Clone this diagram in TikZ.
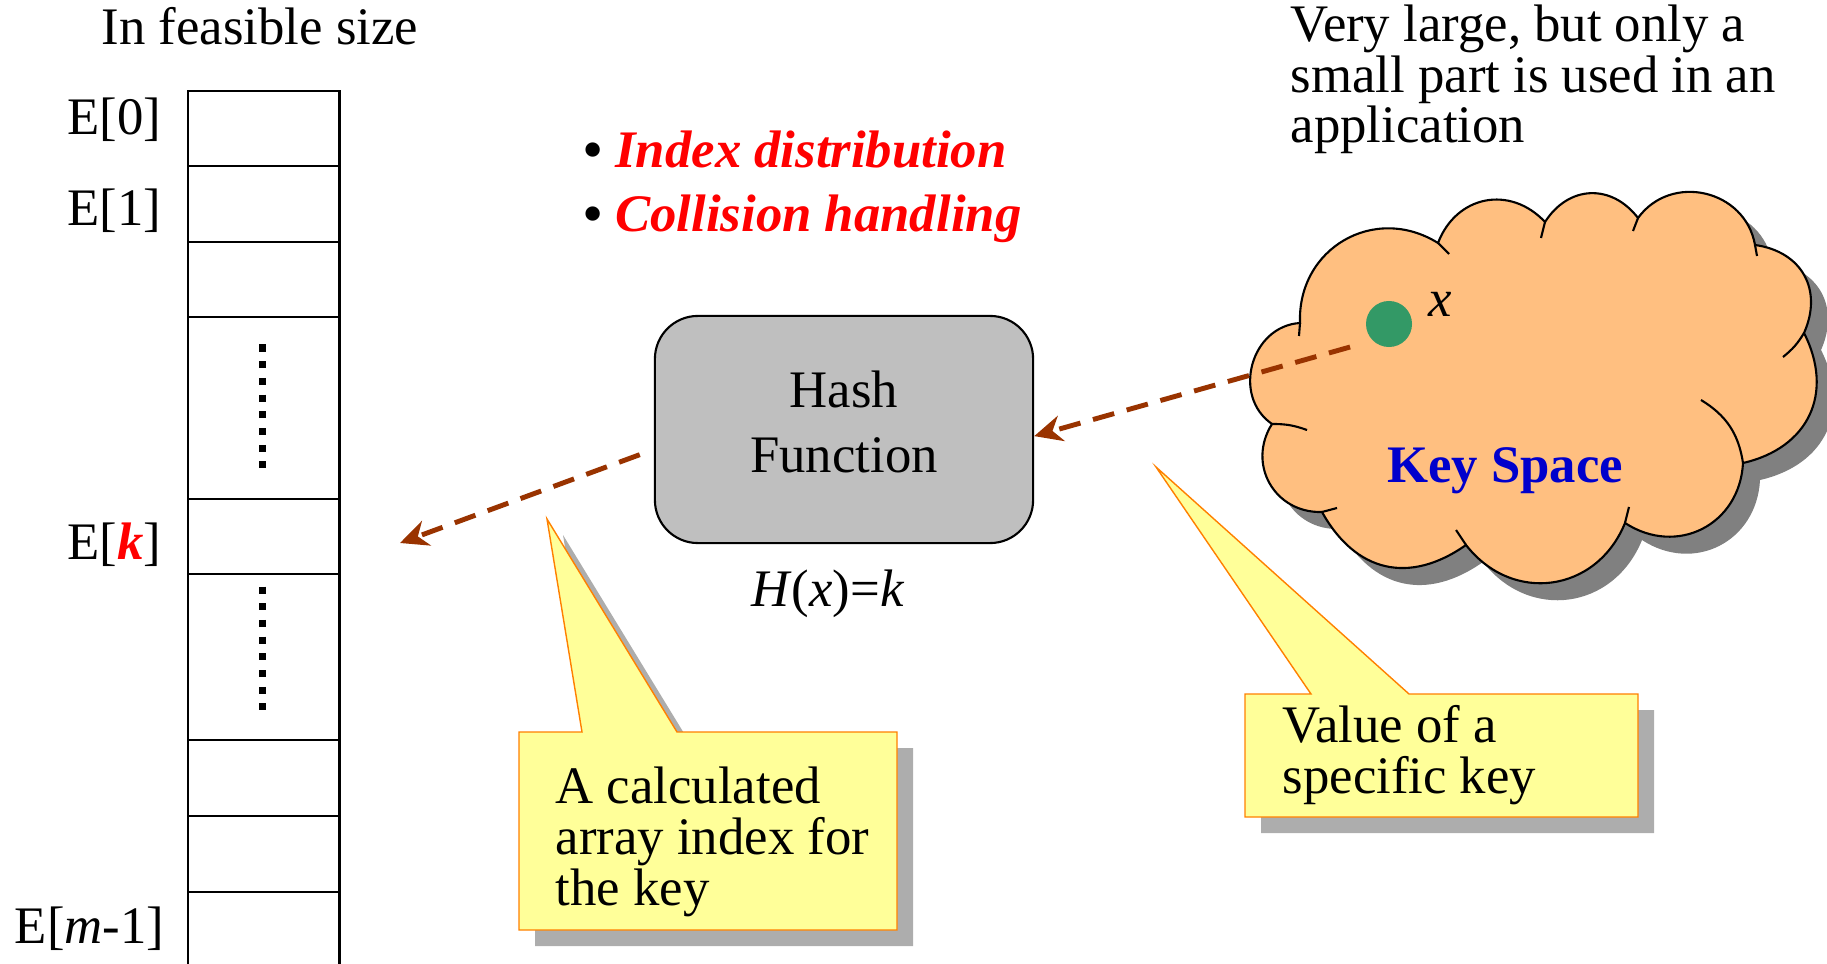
\documentclass[tikz,border=0pt]{standalone}
\usepackage{fontspec}
\setmainfont{Liberation Serif}
\usepackage{xcolor}
\usetikzlibrary{shapes.geometric, arrows.meta, positioning, shadows}

\definecolor{arrowbrown}{RGB}{153,51,0}
\definecolor{cloudfill}{RGB}{255,191,128}
\definecolor{keyblue}{RGB}{0,0,204}
\definecolor{dotgreen}{RGB}{51,153,102}
\definecolor{notefill}{RGB}{255,255,153}
\definecolor{noteedge}{RGB}{255,128,0}

\begin{document}
\begin{tikzpicture}[
  x=0.01cm, y=-0.01cm,
  font=\fontsize{15}{14.4}\selectfont,
  cell/.style={rectangle, draw, line width=0.7pt, minimum width=1.51cm,
               inner sep=0pt, anchor=north west},
  dotline/.style={line width=0.07cm, dash pattern=on 0.07cm off 0.097cm},
  slotname/.style={inner sep=0pt, anchor=base east},
  plain/.style={inner sep=0pt, align=left},
  hashbox/.style={rectangle, rounded corners=0.43cm, draw, line width=0.6pt,
                  fill=black!25, minimum width=3.78cm, minimum height=2.27cm,
                  align=center, text depth=0.16cm, font=\fontsize{15}{18.5}\selectfont},
  bulletitem/.style={inner sep=0pt, anchor=base west,
                     font=\fontsize{15}{17}\selectfont\bfseries\itshape},
  keycloud/.style={draw, line width=0.6pt, fill=cloudfill, looseness=1.2,
                   drop shadow={shadow xshift=0.17cm, shadow yshift=-0.17cm,
                                fill=black!50, opacity=1}},
  keydot/.style={circle, fill=dotgreen, minimum size=0.46cm, inner sep=0pt},
  callnote/.style={draw=noteedge, line width=0.4pt, fill=notefill,
                   drop shadow={shadow xshift=0.16cm, shadow yshift=-0.16cm,
                                fill=black!32, opacity=1}},
  keyarrow/.style={draw=arrowbrown, line width=1.4pt,
                   dash pattern=on 0.22cm off 0.13cm,
                   -{Stealth[length=0.28cm, width=0.26cm, inset=0.09cm]}},
]
  \useasboundingbox (0,0) rectangle (1827,964);

  % hash table slots, top to bottom
  \foreach \ya/\yb/\cid in {90/165/e0, 165/241/e1, 241/316/e2, 316/498/gapa,
                            498/573/ek, 573/739/gapb, 739/815/e7, 815/891/e8, 891/990/elast}
    \node[cell, minimum height={(\yb-\ya)*0.01cm}] (\cid) at (187,\ya) {};
  \draw[dotline] (262,344.5) -- (262,468.5);
  \draw[dotline] (262,586.5) -- (262,711.5);

  \node[plain, anchor=base] (tabletitle) at (260,45) {In feasible size};
  \node[slotname] (n0) at (162,135) {E[0]};
  \node[slotname] (n1) at (162,226) {E[1]};
  \node[slotname] (nk) at (162,559) {E[\textcolor{red}{\textbf{\textit{k}}}]};
  \node[slotname] (nlast) at (165,943) {E[\textit{m}-1]};

  % the two issues of hashing
  \node[bulletitem] (distrib) at (583,168) {\textbullet\ \textcolor{red}{Index distribution}};
  \node[bulletitem] (collide) at (583,232) {\textbullet\ \textcolor{red}{Collision handling}};

  % hash function
  \node[hashbox] (hash) at (844,429.5) {Hash\\Function};
  \node[plain, below=0.25cm of hash, xshift=-0.16cm] (formula)
       {\textit{H}(\textit{x})=\textit{k}};

  % key space cloud: puffs clockwise from the left
  \draw[keycloud] (1300,323) to[bend left=62] (1438,243) to[bend left=58] (1545,222)
    to[bend left=55] (1638,218) to[bend left=67] (1755,245) to[bend left=53] (1804,333)
    to[bend left=52] (1743,463) to[bend left=60] (1625,523) to[bend left=60] (1466,545)
    to[bend left=48] (1322,512) to[bend left=62] (1272,424) to[bend left=71] (1300,323)
    -- cycle;
  % inner ends of the puffs
  \draw[line width=0.6pt]
    (1300,323) -- (1299,336)  (1438,243) -- (1449,254)  (1545,222) -- (1541,238)
    (1638,218) -- (1633,231)  (1755,245) -- (1757,256)
    (1804,333) to[bend left=10] (1783,357)
    (1743,463) to[bend right=25] (1701,400)
    (1625,523) -- (1629,507)  (1466,545) -- (1456,530)  (1322,512) -- (1337,508)
    (1272,424) to[bend left=10] (1307,430);

  \node[plain, anchor=base, text=keyblue, font=\fontsize{15}{17}\selectfont\bfseries]
       (spacename) at (1505,483) {Key Space};
  \node[keydot] (dot) at (1389,324) {};
  \node[plain, anchor=base west] (xname) at (1428,317) {\textit{x}};
  \node[plain, anchor=base west] (spacenote) at (1290,143)
       {Very large, but only a\\small part is used in an\\application};

  % mapping key -> hash -> slot
  \coordinate (slot) at (400,543);
  \draw[keyarrow, shorten <=0.23cm] (dot.south west) -- (hash.-2);
  \draw[keyarrow, shorten <=0.15cm] (hash.186) -- (slot);

  % call-outs
  \draw[callnote] (519,732) -- (582,732) -- (547,519) -- (677,732) -- (897,732)
    -- (897,930) -- (519,930) -- cycle;
  \node[plain, anchor=base west] (indexnote) at (555,905)
       {A calculated\\array index for\\the key};
  \draw[callnote] (1245,694) -- (1311,694) -- (1156,467) -- (1409,694) -- (1638,694)
    -- (1638,817) -- (1245,817) -- cycle;
  \node[plain, anchor=base west] (keynote) at (1282,793) {Value of a\\specific key};
\end{tikzpicture}
\end{document}
